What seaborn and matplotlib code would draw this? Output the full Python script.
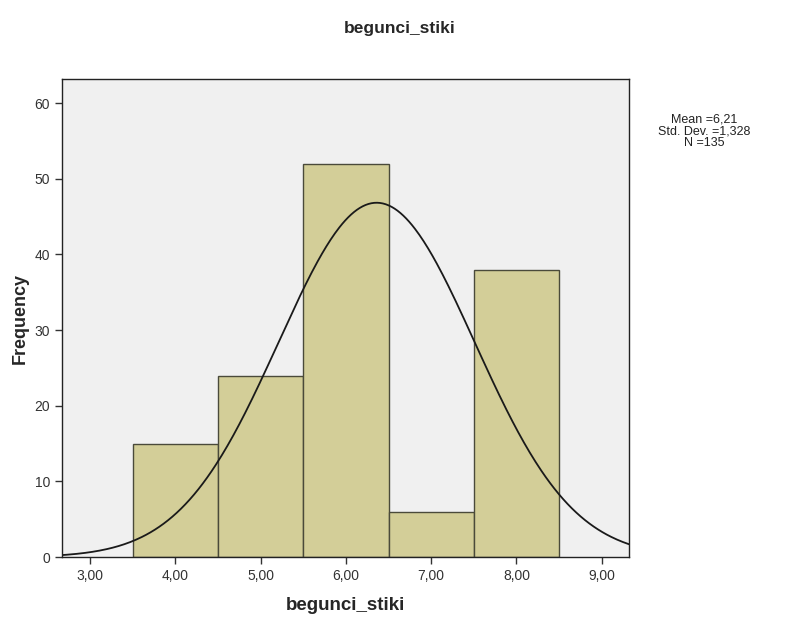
import numpy as np
import pandas as pd
import matplotlib
matplotlib.use("Agg")
import matplotlib.pyplot as plt
from matplotlib.ticker import FuncFormatter
import seaborn as sns

# histogram bins (centres) and frequencies
bin_centers = [4.0, 5.0, 6.0, 7.0, 8.0]
frequencies = [15, 24, 52, 6, 38]
bin_width = 1.0

# summary box text values
stat_mean = "6,21"
stat_sd = "1,328"
stat_n = 135

# normal curve as drawn in the picture
curve_mean = 6.36
curve_sd = 1.15

x_ticks = [3, 4, 5, 6, 7, 8, 9]
y_ticks = [0, 10, 20, 30, 40, 50, 60]

sns.set_theme(style="ticks")
plt.rcParams["font.family"] = ["Liberation Sans", "DejaVu Sans"]

df = pd.DataFrame({"begunci_stiki": bin_centers, "count": frequencies})

fig = plt.figure(figsize=(7.89, 6.26), dpi=100)
ax = fig.add_axes([0.0786, 0.110, 0.7186, 0.764])
ax.set_facecolor("#f0f0f0")

sns.histplot(data=df, x="begunci_stiki", weights="count", discrete=True,
             color="#d3ce98", edgecolor="#4a4a3a", linewidth=1.0, alpha=1.0, ax=ax)

xs = np.linspace(2.6, 9.4, 400)
ys = stat_n * bin_width / (curve_sd * np.sqrt(2 * np.pi)) * np.exp(-0.5 * ((xs - curve_mean) / curve_sd) ** 2)
sns.lineplot(x=xs, y=ys, color="#1a1a1a", linewidth=1.3, ax=ax)

ax.set_xlim(2.67, 9.32)
ax.set_ylim(0, 63.2)
ax.set_xticks(x_ticks)
ax.set_yticks(y_ticks)
ax.xaxis.set_major_formatter(FuncFormatter(lambda v, p: f"{v:.2f}".replace(".", ",")))
ax.tick_params(axis="both", direction="out", length=5, width=1, color="#333333",
               labelsize=10, labelcolor="#333333")
for s in ax.spines.values():
    s.set_visible(True)
    s.set_color("#222222")
    s.set_linewidth(1.0)

ax.set_xlabel("begunci_stiki", fontsize=13.5, fontweight="bold", labelpad=10)
ax.set_ylabel("Frequency", fontsize=13, fontweight="bold", labelpad=4)
fig.text(0.506, 0.955, "begunci_stiki", ha="center", va="center",
         fontsize=12.5, fontweight="bold")
fig.text(0.893, 0.79, f"Mean ={stat_mean}\nStd. Dev. ={stat_sd}\nN ={stat_n}",
         ha="center", va="center", fontsize=9, linespacing=1.0, color="#222222")

fig.savefig("out.png", dpi=100)
